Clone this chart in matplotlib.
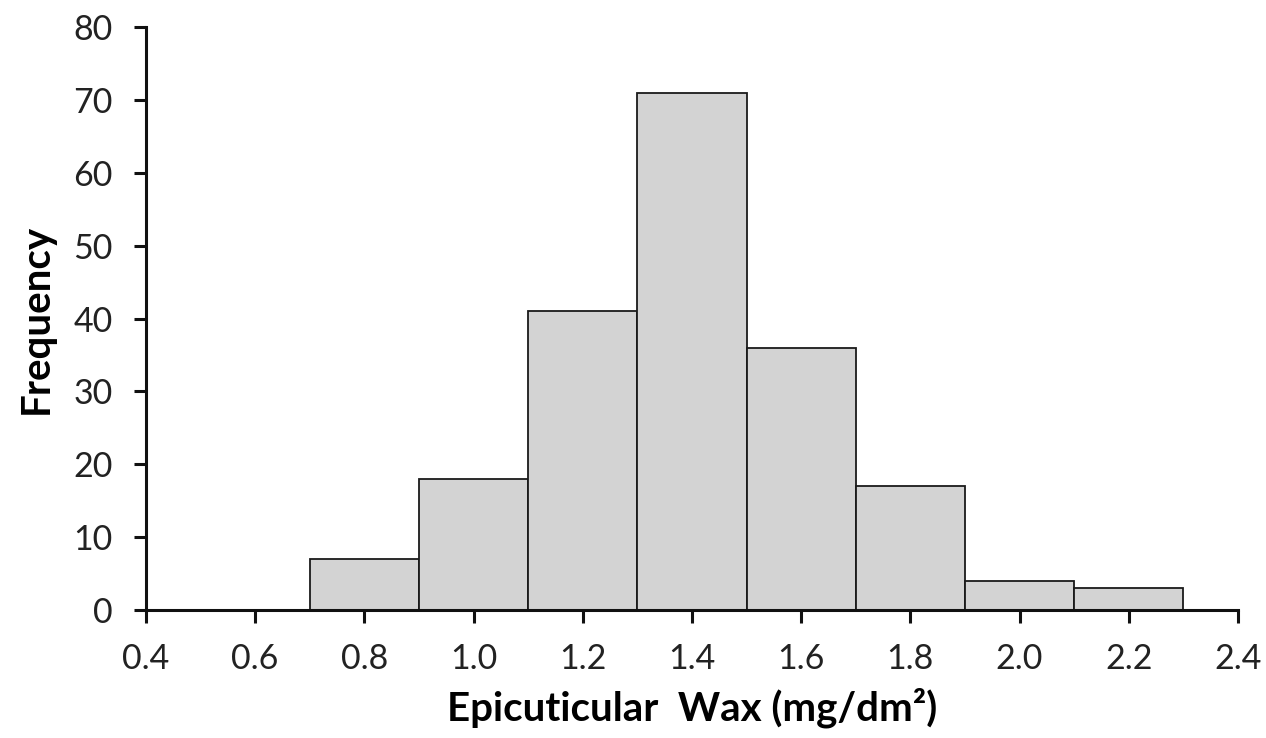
import numpy as np
import matplotlib
matplotlib.use('Agg')
import matplotlib.pyplot as plt

# histogram counts
bin_edges = [0.7, 0.9, 1.1, 1.3, 1.5, 1.7, 1.9, 2.1, 2.3]
counts = [7, 18, 41, 71, 36, 17, 4, 3]
x_ticks = [0.4, 0.6, 0.8, 1.0, 1.2, 1.4, 1.6, 1.8, 2.0, 2.2, 2.4]
y_ticks = [0, 10, 20, 30, 40, 50, 60, 70, 80]

plt.rcParams['font.family'] = ['Lato', 'DejaVu Sans']

fig = plt.figure(figsize=(12.66, 7.38), dpi=100)
ax = fig.add_axes([0.1153, 0.1734, 0.8625, 0.79])

lefts = np.array(bin_edges[:-1])
widths = np.diff(bin_edges)
ax.bar(lefts, counts, width=widths, align='edge',
       color='#d3d3d3', edgecolor='#1a1a1a', linewidth=1.3)

ax.set_xlim(0.4, 2.4)
ax.set_ylim(0, 80)
ax.set_xticks(x_ticks)
ax.set_xticklabels(['%.1f' % v for v in x_ticks])
ax.set_yticks(y_ticks)

for s in ['top', 'right']:
    ax.spines[s].set_visible(False)
for s in ['left', 'bottom']:
    ax.spines[s].set_linewidth(2.2)
    ax.spines[s].set_color('#111111')

ax.tick_params(axis='both', direction='out', length=9, width=2.2,
               labelsize=24.5, colors='#111111', labelcolor='#222222')
ax.tick_params(axis='y', pad=15)
ax.tick_params(axis='x', pad=15)

ax.set_xlabel('Epicuticular  Wax (mg/dm\u00b2)', fontsize=29,
              fontweight='bold', labelpad=9)
ax.set_ylabel('Frequency', fontsize=29, fontweight='bold', labelpad=13)

fig.savefig('out.png', dpi=100)
